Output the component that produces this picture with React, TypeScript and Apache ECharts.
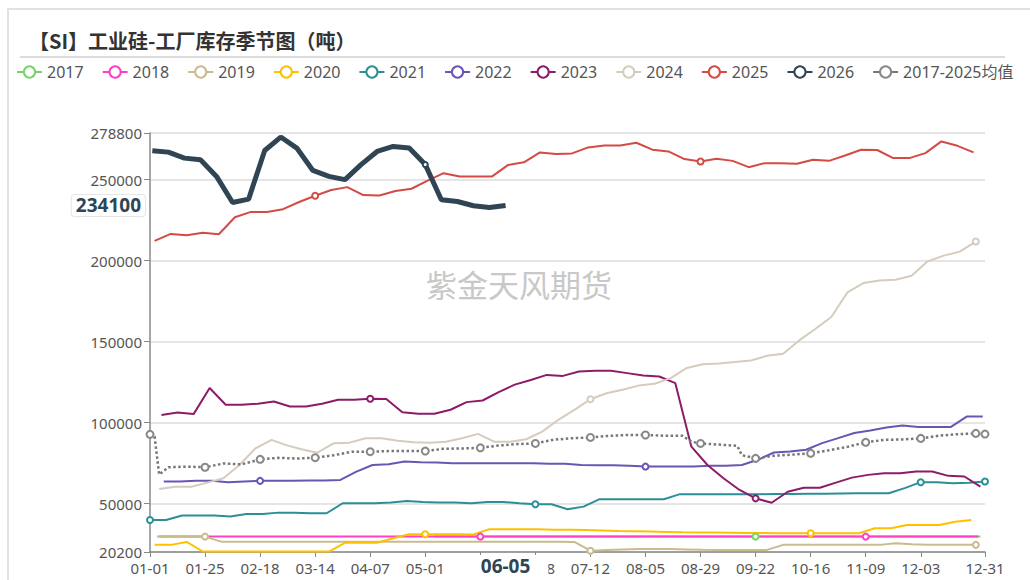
import { useEffect, useRef } from 'react';
import * as echarts from 'echarts';

const TITLE = '【SI】工业硅-工厂库存季节图（吨）';
const WATERMARK = '紫金天风期货';
const Y_MIN = 20200;
const Y_MAX = 278800;
const POINTER_DAY = '06-05';
const POINTER_VALUE = 234100;
const FONT = "'Noto Sans', 'Noto Sans CJK SC', sans-serif";

// weekly (Friday) observations per year: first date + values
const start2017 = '2017-05-05';
const v2017 = [29700, 29700, 29700, 29700, 29700, 29700, 29700, 29700, 29700, 29700, 29700, 29700, 29700, 29700, 29700, 29700, 29700, 29700, 29700, 29700, 29700, 29700, 29700, 29700, 29700, 29700, 29700, 29700, 29700, 29700, 29700, 29700, 29700, 29700, 29700];
const start2018 = '2018-01-05';
const v2018 = [29700, 29700, 29700, 29700, 29700, 29700, 29700, 29700, 29700, 29700, 29700, 29700, 29700, 29700, 29700, 29700, 29700, 29700, 29700, 29700, 29700, 29700, 29700, 29700, 29700, 29700, 29700, 29700, 29700, 29700, 29700, 29700, 29700, 29700, 29700, 29700, 29700, 29700, 29700, 29700, 29700, 29700, 29700, 29700, 29700, 29700, 29700, 29700, 29700, 29700, 29700, 29700];
const start2019 = '2019-01-04';
const v2019 = [29700, 29700, 29700, 29700, 26600, 26600, 26600, 26600, 26600, 26600, 26600, 26600, 26600, 26600, 26600, 26600, 26600, 26600, 26600, 26600, 26600, 26600, 26600, 26600, 26600, 26600, 26400, 21000, 21500, 21800, 22000, 22100, 22000, 21800, 21600, 21500, 21500, 21500, 21500, 24600, 24600, 24600, 24600, 24600, 24600, 24600, 25600, 25000, 24600, 24600, 24600, 24600];
const start2020 = '2020-01-03';
const v2020 = [24600, 24600, 26400, 20500, 20500, 20500, 20500, 20500, 20500, 20500, 20500, 20500, 25900, 25900, 25900, 28700, 31200, 31200, 31200, 31200, 31000, 34300, 34300, 34300, 34300, 34000, 34000, 33800, 33500, 33200, 33000, 32800, 32600, 32400, 32300, 32200, 32100, 32000, 31900, 31800, 31800, 31800, 31800, 31800, 31800, 34900, 34900, 36900, 36900, 36900, 38900, 40000];
const start2021 = '2021-01-01';
const v2021 = [40000, 40000, 42700, 42700, 42700, 42100, 43700, 43700, 44500, 44500, 44100, 44100, 50300, 50300, 50300, 50700, 51700, 51100, 50700, 50700, 50300, 51100, 51100, 50300, 49700, 49700, 46600, 48200, 52800, 52800, 52800, 52800, 52800, 55900, 55900, 55900, 55900, 55900, 55900, 56000, 56000, 56100, 56200, 56300, 56400, 56500, 56500, 59600, 63300, 63300, 62700, 63000, 63700];
const start2022 = '2022-01-07';
const v2022 = [63700, 63700, 64100, 64100, 63300, 63700, 64100, 64100, 64100, 64300, 64300, 64700, 69800, 73900, 74300, 76000, 75600, 75400, 75000, 75000, 75000, 75000, 75000, 75000, 74600, 74600, 73900, 73800, 73800, 73400, 72900, 72900, 72900, 72900, 73400, 73400, 73900, 77100, 81600, 82300, 83300, 87400, 90500, 93600, 95200, 97100, 98300, 97300, 97300, 97300, 103800, 103800];
const start2023 = '2023-01-06';
const v2023 = [104800, 106300, 105300, 121400, 111100, 111100, 111700, 113100, 110000, 110000, 111700, 114200, 114200, 114800, 114600, 106500, 105500, 105500, 108000, 112700, 113700, 118900, 123500, 126400, 129500, 128900, 131600, 132000, 132000, 130600, 129100, 128500, 124400, 85200, 73900, 65700, 58500, 53300, 50600, 57400, 59900, 59900, 63000, 66100, 67800, 68800, 68800, 69900, 69900, 67200, 66800, 60500];
const start2024 = '2024-01-05';
const v2024 = [59100, 60500, 60500, 63000, 65700, 73900, 84200, 89400, 86300, 83600, 81500, 87300, 87700, 90400, 90400, 88800, 87900, 87700, 88300, 90400, 93100, 88300, 88300, 89800, 94500, 101800, 107900, 114500, 118200, 120300, 122900, 124000, 127500, 133800, 136100, 136600, 137500, 138400, 141300, 142500, 150800, 157800, 165200, 180400, 186200, 187800, 188200, 190700, 199600, 203100, 205600, 211800];
const start2025 = '2025-01-03';
const v2025 = [212200, 216500, 215700, 217300, 216300, 226800, 230100, 230100, 231800, 236200, 240100, 243600, 245400, 240500, 240200, 243000, 244400, 249400, 254000, 251900, 251900, 251900, 259000, 260700, 266800, 265800, 266200, 269900, 271100, 271100, 272800, 268500, 267400, 262700, 261200, 262900, 261600, 257700, 260200, 260200, 259800, 262300, 261600, 264900, 268500, 268300, 263300, 263300, 266400, 273600, 270900, 266800];
const start2026 = '2026-01-02';
const v2026 = [267800, 267000, 263300, 262300, 252000, 235900, 238000, 268000, 276300, 269500, 255700, 252000, 250000, 259300, 267400, 270500, 269500, 259300, 237600, 236500, 233900, 232800, 234100];

// 2017-2025 average: day-of-year positions and values
const avgDays = [0, 2, 4, 8, 16, 24, 32, 40, 48, 56, 64, 72, 80, 88, 96, 104, 112, 120, 128, 136, 144, 152, 160, 168, 176, 184, 192, 200, 208, 216, 224, 232, 236, 240, 248, 256, 258, 264, 272, 280, 288, 296, 304, 312, 320, 328, 336, 344, 352, 360, 364];
const avgValues = [92800, 91500, 68000, 72500, 72900, 72500, 74800, 74300, 77400, 78300, 77900, 78400, 79900, 82100, 82100, 82500, 82500, 82500, 83900, 84100, 84500, 85900, 86800, 87200, 89500, 90400, 90900, 91900, 92400, 92400, 92000, 92000, 88300, 87200, 86500, 85700, 80000, 78000, 79600, 80300, 81100, 83000, 85100, 87900, 89400, 89700, 90300, 92000, 92900, 93400, 93000];

const seriesNames = ['2017', '2018', '2019', '2020', '2021', '2022', '2023', '2024', '2025', '2026', '2017-2025均值'];
const seriesColors = ['#77d46a', '#ff3fc4', '#c9bb8e', '#ffc000', '#2a8f96', '#6a55b5', '#8c1c68', '#d6ccbd', '#d44a45', '#2f4554', '#8a8a8a'];

const pad = (n: number) => (n < 10 ? '0' : '') + n;
const mmdd = (d: Date) => pad(d.getUTCMonth() + 1) + '-' + pad(d.getUTCDate());

const categories: string[] = (() => {
  const out: string[] = [];
  const base = Date.UTC(2025, 0, 1);
  for (let i = 0; i < 365; i++) out.push(mmdd(new Date(base + i * 86400000)));
  return out;
})();

// labels hidden in the reference (under the pointer label / next to the last label)
const HIDDEN_LABELS = ['05-25', '12-27'];

function weekly(start: string, values: number[]) {
  const t0 = Date.parse(start + 'T00:00:00Z');
  return values.map((v, k) => [mmdd(new Date(t0 + k * 7 * 86400000)), v]);
}

const yearData = [
  weekly(start2017, v2017),
  weekly(start2018, v2018),
  weekly(start2019, v2019),
  weekly(start2020, v2020),
  weekly(start2021, v2021),
  weekly(start2022, v2022),
  weekly(start2023, v2023),
  weekly(start2024, v2024),
  weekly(start2025, v2025),
  weekly(start2026, v2026),
];
const avgData = avgDays.map((d, i) => [categories[d], avgValues[i]]);

export default function App() {
  const ref = useRef<HTMLDivElement>(null);
  useEffect(() => {
    if (!ref.current) return;
    const chart = echarts.init(ref.current, undefined, { renderer: 'svg' });
    const series: any[] = yearData.map((data, i) => ({
      type: 'line',
      name: seriesNames[i],
      data,
      connectNulls: true,
      symbol: 'emptyCircle',
      symbolSize: i === 9 ? 5 : 6,
      lineStyle: { width: i === 9 ? 5 : 2, color: seriesColors[i] },
      itemStyle: { color: seriesColors[i] },
      emphasis: { disabled: true },
    }));
    series.push({
      type: 'line',
      name: seriesNames[10],
      data: avgData,
      connectNulls: true,
      symbol: 'emptyCircle',
      symbolSize: 7,
      lineStyle: { width: 2.5, type: 'dotted', color: '#777' },
      itemStyle: { color: '#888' },
      emphasis: { disabled: true },
    });
    const lastIdx = categories.length - 1;
    chart.setOption({
      animation: false,
      color: seriesColors,
      title: {
        text: TITLE,
        left: 24,
        top: 25,
        textStyle: { fontSize: 20, fontWeight: 'bold', color: '#333', fontFamily: "'Noto Sans CJK SC', sans-serif" },
      },
      legend: {
        left: 11,
        top: 59,
        itemWidth: 25,
        itemHeight: 14,
        itemGap: 18,
        lineStyle: { width: 2, type: 'solid' },
        textStyle: { fontSize: 16, color: '#555', fontFamily: FONT },
        data: seriesNames,
      },
      grid: { left: 150, right: 45, top: 133, bottom: 28 },
      xAxis: {
        type: 'category',
        data: categories,
        boundaryGap: false,
        axisLine: { show: true, lineStyle: { color: '#888', width: 1.5 } },
        axisTick: {
          show: true,
          length: 5,
          interval: (i: number) => (i % 24 === 0 && i !== 360) || i === lastIdx,
          lineStyle: { color: '#888' },
        },
        axisLabel: {
          interval: 23,
          showMaxLabel: true,
          fontSize: 15,
          color: '#555',
          fontFamily: FONT,
          margin: 8,
          formatter: (v: string) => (HIDDEN_LABELS.indexOf(v) >= 0 ? '' : v),
        },
        splitLine: { show: false },
        axisPointer: {
          show: true,
          type: 'line',
          status: 'show',
          value: categories.indexOf(POINTER_DAY),
          lineStyle: { opacity: 0 },
          label: {
            show: true,
            backgroundColor: '#fff',
            color: '#2f4554',
            fontWeight: 'bold',
            fontSize: 19,
            fontFamily: FONT,
            padding: [1, 18],
            margin: 3,
          },
        },
      },
      yAxis: {
        type: 'value',
        min: Y_MIN,
        max: Y_MAX,
        splitNumber: 5,
        axisLine: { show: true, lineStyle: { color: '#888', width: 1.5 } },
        axisTick: { show: true, length: 6, lineStyle: { color: '#888' } },
        axisLabel: { fontSize: 15, color: '#555', fontFamily: FONT, margin: 8, formatter: (v: number) => String(v) },
        splitLine: { show: true, lineStyle: { color: '#dcdcdc', width: 1.5 } },
        axisPointer: {
          show: true,
          type: 'line',
          status: 'show',
          value: POINTER_VALUE,
          lineStyle: { opacity: 0 },
          label: {
            show: true,
            backgroundColor: '#fff',
            borderColor: '#e6e6e6',
            borderWidth: 1,
            color: '#2f4554',
            fontWeight: 'bold',
            fontSize: 19,
            fontFamily: FONT,
            padding: [1, 4],
            margin: 5,
            formatter: (p: any) => String(Math.round(p.value)),
          },
        },
      },
      graphic: [
        { type: 'line', shape: { x1: 7, y1: 9, x2: 1030, y2: 9 }, style: { stroke: '#e2e2e2', lineWidth: 2 }, silent: true },
        { type: 'line', shape: { x1: 8, y1: 9, x2: 8, y2: 580 }, style: { stroke: '#e2e2e2', lineWidth: 2 }, silent: true },
        { type: 'line', shape: { x1: 20, y1: 57, x2: 1005, y2: 57 }, style: { stroke: '#cfcfcf', lineWidth: 1.5 }, silent: true },
        {
          type: 'text',
          left: 426,
          top: 268,
          silent: true,
          style: { text: WATERMARK, fill: '#c8c8c8', fontSize: 31, fontFamily: "'Noto Sans CJK SC', sans-serif" },
        },
      ],
      series,
    });
    return () => chart.dispose();
  }, []);
  return <div ref={ref} style={{ position: 'fixed', left: 0, top: 0, width: 1030, height: 580, background: '#fff' }} />;
}
